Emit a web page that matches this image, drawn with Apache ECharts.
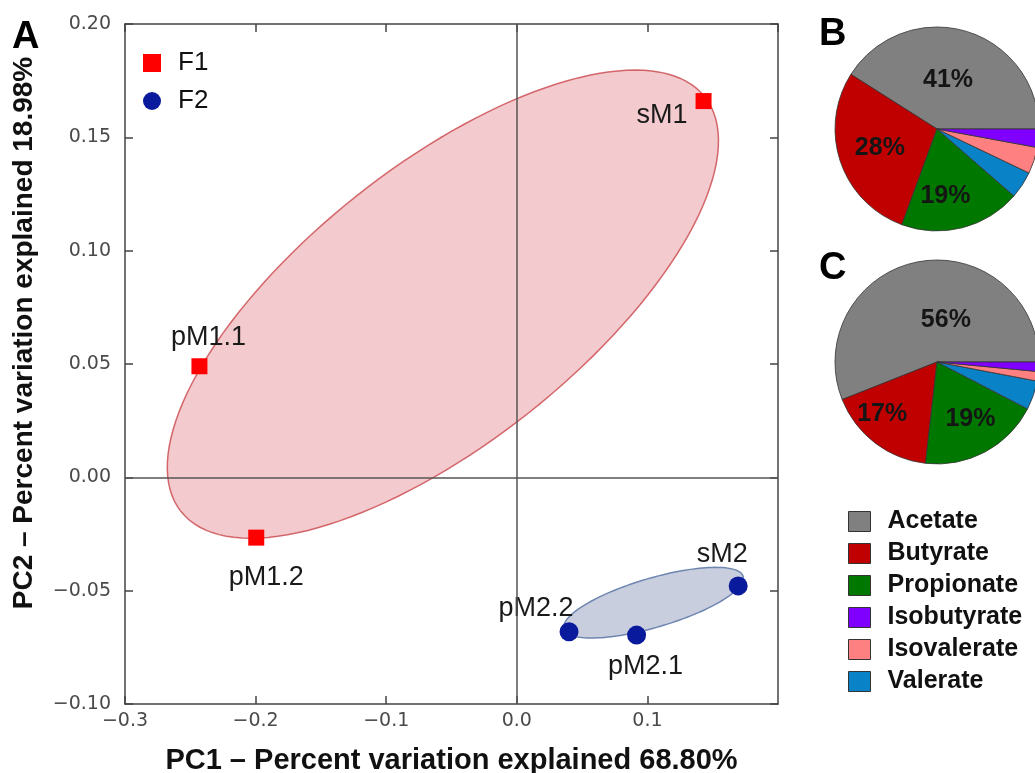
<!DOCTYPE html>
<html>
<head>
<meta charset="UTF-8">
<title>PCA</title>
<script src="https://cdn.jsdelivr.net/npm/echarts@6/dist/echarts.min.js"></script>
<style>
    html, body { margin: 0; padding: 0; background: #fff; }
    #main { width: 1035px; height: 773px; }
</style>
</head>
<body>
<div id="main"></div>
<script type="text/javascript">

    // 样本点 (PC1, PC2)
    var f1Names = ['sM1', 'pM1.1', 'pM1.2'];
    var f1Pc1 = [0.143, -0.243, -0.1995];
    var f1Pc2 = [0.166, 0.049, -0.0266];

    var f2Names = ['sM2', 'pM2.2', 'pM2.1'];
    var f2Pc1 = [0.1695, 0.040, 0.0917];
    var f2Pc2 = [-0.0479, -0.0681, -0.0696];

    // 椭圆: 中心x, 中心y, 长半轴向量(x,y), 短半轴向量(x,y)
    var ellipseF1 = [-0.0566, 0.0764, 0.2005, 0.0915, 0.0658, -0.0479];
    var ellipseF2 = [0.1047, -0.0553, 0.0686, 0.0116, 0.0053, -0.0104];

    // 饼图 B / C (逆时针, 从3点钟方向开始)
    var acidNames = ['Acetate', 'Butyrate', 'Propionate', 'Valerate', 'Isovalerate', 'Isobutyrate'];
    var pieB = [41, 28.4, 19.2, 4.3, 4.2, 2.9];
    var pieC = [56, 17.2, 19.2, 4.6, 1.5, 1.5];
    var legendOrder = ['Acetate', 'Butyrate', 'Propionate', 'Isobutyrate', 'Isovalerate', 'Valerate'];

    var xMin = -0.3, xMax = 0.2, xStep = 0.1;
    var yMin = -0.10, yMax = 0.20, yStep = 0.05;

    var acidColors = {
        'Acetate': '#808080',
        'Butyrate': '#C00000',
        'Propionate': '#007800',
        'Isobutyrate': '#8000FF',
        'Isovalerate': '#FF8080',
        'Valerate': '#0A82C8'
    };

    // 点标签位置
    var labelPos = {
        'sM1':   { position: 'left',   distance: 8,  offset: [0, 14] },
        'pM1.1': { position: 'top',    distance: 7,  offset: [9, 0] },
        'pM1.2': { position: 'bottom', distance: 18, offset: [10, 0] },
        'sM2':   { position: 'top',    distance: 8,  offset: [-16, 0] },
        'pM2.2': { position: 'top',    distance: 0,  offset: [-33, 0] },
        'pM2.1': { position: 'bottom', distance: 8,  offset: [9, 0] }
    };

    // 饼图标签微调
    var pieLabelOffset = {
        B: { 'Acetate': [-4, 3], 'Butyrate': [-6, 2], 'Propionate': [-5, 15] },
        C: { 'Acetate': [19, 11], 'Butyrate': [-22, 9], 'Propionate': [8, 9] }
    };

    function points(names, xs, ys) {
        return names.map(function (n, i) {
            return { name: n, value: [xs[i], ys[i]], label: labelPos[n] };
        });
    }

    function makeEllipse(fill, stroke) {
        return function (params, api) {
            var cx = api.value(0), cy = api.value(1);
            var ax = api.value(2), ay = api.value(3);
            var bx = api.value(4), by = api.value(5);
            var pts = [];
            for (var k = 0; k < 144; k++) {
                var t = k / 144 * Math.PI * 2;
                pts.push(api.coord([cx + ax * Math.cos(t) + bx * Math.sin(t),
                                    cy + ay * Math.cos(t) + by * Math.sin(t)]));
            }
            return {
                type: 'polygon',
                shape: { points: pts },
                style: { fill: fill, stroke: stroke, lineWidth: 1.5 }
            };
        };
    }

    function minus(s) { return s.replace('-', '\u2212'); }

    function pieData(key, vals) {
        return acidNames.map(function (n, i) {
            var d = { name: n, value: vals[i], itemStyle: { color: acidColors[n] } };
            if (pieLabelOffset[key][n]) d.label = { offset: pieLabelOffset[key][n] };
            return d;
        });
    }

    var frameColor = '#444';
    var tickFont = { color: '#4a4a4a', fontSize: 19, fontFamily: 'DejaVu Sans' };
    var letterFont = { fontSize: 38, fontWeight: 'bold', color: '#000', fontFamily: 'Liberation Sans' };
    var pieLabel = {
        position: 'inside', fontSize: 25, fontWeight: 'bold', color: '#151515', fontFamily: 'Liberation Sans',
        formatter: function (p) { return p.value >= 10 ? Math.round(p.value) + '%' : ''; }
    };

    var myChart = echarts.init(document.getElementById('main'));

    var option = {
        animation: false,
        title: [
            { text: 'A', left: 12, top: 19, padding: 0, textStyle: letterFont },
            { text: 'B', left: 819, top: 16, padding: 0, textStyle: letterFont },
            { text: 'C', left: 819, top: 250, padding: 0, textStyle: letterFont }
        ],
        legend: [
            {
                data: ['F1', 'F2'],
                orient: 'vertical',
                left: 143, top: 50, padding: 0,
                itemWidth: 18, itemHeight: 18, itemGap: 12,
                textStyle: { fontSize: 26, color: '#111', fontFamily: 'Liberation Sans', lineHeight: 18, padding: [0, 0, 0, 12] }
            },
            {
                data: legendOrder,
                orient: 'vertical',
                left: 848, top: 509, padding: 0,
                icon: 'rect',
                itemWidth: 22, itemHeight: 20, itemGap: 7,
                itemStyle: { borderColor: '#333', borderWidth: 1 },
                textStyle: { fontSize: 25, fontWeight: 'bold', color: '#111', fontFamily: 'Liberation Sans', lineHeight: 20, padding: [0, 0, 0, 12] }
            }
        ],
        grid: { left: 125, right: 257, top: 24, bottom: 69, outerBoundsMode: 'none' },
        xAxis: [
            {
                type: 'value', min: xMin, max: xMax, interval: xStep,
                name: 'PC1 \u2013 Percent variation explained 68.80%',
                nameLocation: 'middle', nameGap: 42,
                nameTextStyle: { fontSize: 29, fontWeight: 'bold', color: '#111', fontFamily: 'Liberation Sans' },
                axisLine: { onZero: false, lineStyle: { color: frameColor, width: 1.5 } },
                axisTick: { inside: true, length: 8, lineStyle: { color: frameColor, width: 1.5 } },
                axisLabel: Object.assign({ margin: 8, showMaxLabel: false,
                    formatter: function (v) { return minus(v.toFixed(1)); } }, tickFont),
                splitLine: { show: false }
            },
            {
                type: 'value', position: 'top', min: xMin, max: xMax, interval: xStep,
                axisLine: { onZero: false, lineStyle: { color: frameColor, width: 1.5 } },
                axisTick: { inside: true, length: 8, lineStyle: { color: frameColor, width: 1.5 } },
                axisLabel: { show: false },
                splitLine: { show: false }
            }
        ],
        yAxis: [
            {
                type: 'value', min: yMin, max: yMax, interval: yStep,
                name: 'PC2 \u2013 Percent variation explained 18.98%',
                nameLocation: 'middle', nameGap: 87,
                nameTextStyle: { fontSize: 28, fontWeight: 'bold', color: '#111', fontFamily: 'Liberation Sans', padding: [0, 0, 0, 62] },
                axisLine: { onZero: false, lineStyle: { color: frameColor, width: 1.5 } },
                axisTick: { inside: true, length: 8, lineStyle: { color: frameColor, width: 1.5 } },
                axisLabel: Object.assign({ margin: 14,
                    formatter: function (v) { return minus(v.toFixed(2)); } }, tickFont),
                splitLine: { show: false }
            },
            {
                type: 'value', position: 'right', min: yMin, max: yMax, interval: yStep,
                axisLine: { onZero: false, lineStyle: { color: frameColor, width: 1.5 } },
                axisTick: { inside: true, length: 8, lineStyle: { color: frameColor, width: 1.5 } },
                axisLabel: { show: false },
                splitLine: { show: false }
            }
        ],
        series: [
            {
                name: 'F1 ellipse', type: 'custom', silent: true, z: 1,
                xAxisIndex: 0, yAxisIndex: 0,
                encode: { x: 0, y: 1 },
                renderItem: makeEllipse('rgba(216,80,90,0.30)', 'rgba(205,80,85,0.85)'),
                data: [ellipseF1]
            },
            {
                name: 'F2 ellipse', type: 'custom', silent: true, z: 1,
                xAxisIndex: 0, yAxisIndex: 0,
                encode: { x: 0, y: 1 },
                renderItem: makeEllipse('rgba(60,80,140,0.28)', '#6F86B0'),
                data: [ellipseF2]
            },
            {
                name: 'F1', type: 'scatter', z: 3,
                xAxisIndex: 0, yAxisIndex: 0,
                symbol: 'rect', symbolSize: 16,
                itemStyle: { color: '#FF0000', opacity: 1 },
                label: { show: true, formatter: '{b}', fontSize: 27, color: '#1a1a1a', fontFamily: 'Liberation Sans' },
                data: points(f1Names, f1Pc1, f1Pc2),
                markLine: {
                    silent: true, symbol: 'none', label: { show: false },
                    lineStyle: { color: '#555', width: 1.5, type: 'solid' },
                    data: [{ xAxis: 0 }, { yAxis: 0 }]
                }
            },
            {
                name: 'F2', type: 'scatter', z: 3,
                xAxisIndex: 0, yAxisIndex: 0,
                symbol: 'circle', symbolSize: 19,
                itemStyle: { color: '#0A1A9C', opacity: 1 },
                label: { show: true, formatter: '{b}', fontSize: 27, color: '#1a1a1a', fontFamily: 'Liberation Sans' },
                data: points(f2Names, f2Pc1, f2Pc2)
            },
            {
                name: 'B', type: 'pie', center: [937, 129], radius: 102,
                startAngle: 0, clockwise: false, silent: true,
                itemStyle: { borderColor: '#333', borderWidth: 0.8 },
                label: pieLabel,
                labelLine: { show: false },
                data: pieData('B', pieB)
            },
            {
                name: 'C', type: 'pie', center: [937, 362], radius: 102,
                startAngle: 0, clockwise: false, silent: true,
                itemStyle: { borderColor: '#333', borderWidth: 0.8 },
                label: pieLabel,
                labelLine: { show: false },
                data: pieData('C', pieC)
            }
        ]
    };

    myChart.setOption(option);
</script>
</body>
</html>
